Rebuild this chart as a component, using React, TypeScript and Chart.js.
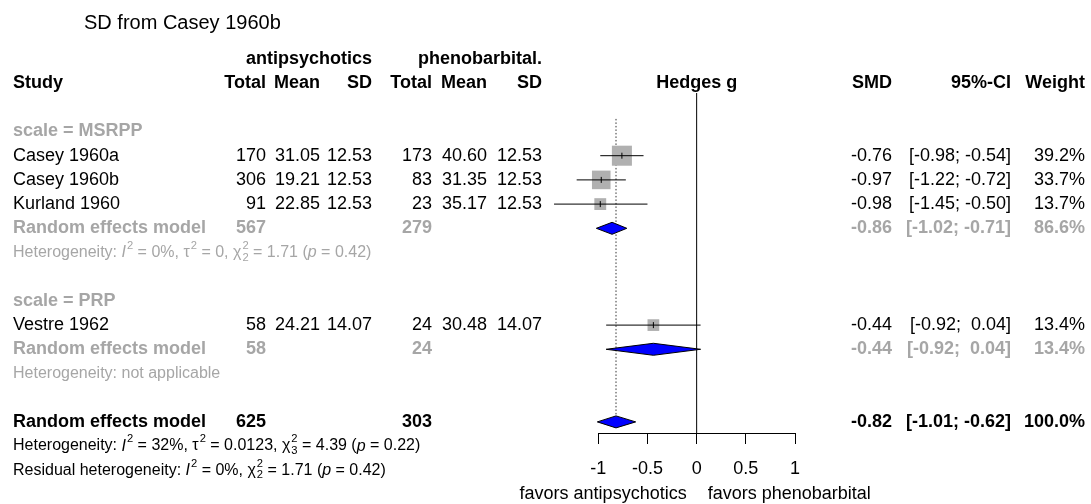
import React, { useEffect, useRef } from 'react';
import { Chart, registerables } from 'chart.js';

Chart.register(...registerables);

// ---------- data ----------
const TITLE = 'SD from Casey 1960b';
const GROUP_E = 'antipsychotics';
const GROUP_C = 'phenobarbital.';

const SUBGROUP_LABELS = ['scale = MSRPP', 'scale = PRP'];
const SUBGROUP_ROWS = [0, 7];

const STUDIES = ['Casey 1960a', 'Casey 1960b', 'Kurland 1960', 'Vestre 1962'];
const STUDY_ROWS = [1, 2, 3, 8];
const N_E = [170, 306, 91, 58];
const MEAN_E = [31.05, 19.21, 22.85, 24.21];
const SD_E = [12.53, 12.53, 12.53, 14.07];
const N_C = [173, 83, 23, 24];
const MEAN_C = [40.6, 31.35, 35.17, 30.48];
const SD_C = [12.53, 12.53, 12.53, 14.07];
const SMD = [-0.76, -0.97, -0.98, -0.44];
const CI_LO = [-0.98, -1.22, -1.45, -0.92];
const CI_HI = [-0.54, -0.72, -0.5, 0.04];
const WEIGHT = [39.2, 33.7, 13.7, 13.4];

const POOLED_LABEL = 'Random effects model';
const POOLED_ROWS = [4, 9, 12];
const POOLED_N_E = [567, 58, 625];
const POOLED_N_C = [279, 24, 303];
const POOLED_SMD = [-0.86, -0.44, -0.82];
const POOLED_LO = [-1.02, -0.92, -1.01];
const POOLED_HI = [-0.71, 0.04, -0.62];
const POOLED_WEIGHT = [86.6, 13.4, 100.0];

const X_TICKS = [-1, -0.5, 0, 0.5, 1];
const LABEL_LEFT = 'favors antipsychotics';
const LABEL_RIGHT = 'favors phenobarbital';

type Seg = { t?: string; it?: boolean; sup?: string; sub?: string };
const HET_ROWS = [5, 10, 13, 14];
const HET_LINES: Seg[][] = [
  [{ t: 'Heterogeneity: ' }, { t: 'I', it: true }, { sup: '2' }, { t: ' = 0%, τ' }, { sup: '2' }, { t: ' = 0, χ' }, { sup: '2', sub: '2' }, { t: ' = 1.71 (' }, { t: 'p', it: true }, { t: ' = 0.42)' }],
  [{ t: 'Heterogeneity: not applicable' }],
  [{ t: 'Heterogeneity: ' }, { t: 'I', it: true }, { sup: '2' }, { t: ' = 32%, τ' }, { sup: '2' }, { t: ' = 0.0123, χ' }, { sup: '2', sub: '3' }, { t: ' = 4.39 (' }, { t: 'p', it: true }, { t: ' = 0.22)' }],
  [{ t: 'Residual heterogeneity: ' }, { t: 'I', it: true }, { sup: '2' }, { t: ' = 0%, χ' }, { sup: '2', sub: '2' }, { t: ' = 1.71 (' }, { t: 'p', it: true }, { t: ' = 0.42)' }],
];
const HET_GRAY = [true, true, false, false];

// ---------- style / layout ----------
const FONT = '"Liberation Sans", Arial, sans-serif';
const FS = 18;
const HET_FS = 16;
const GRAY = '#a6a6a6';
const SQUARE = '#b0b0b0';
const COL = { study: 13, nE: 266, meanE: 320, sdE: 372, nC: 432, meanC: 487, sdC: 542, smd: 892, ci: 1011, w: 1085 };

function fmtCI(lo: number, hi: number) {
  const l = lo.toFixed(2);
  const h = hi.toFixed(2);
  return `[${l};${hi < 0 ? ' ' : '  '}${h}]`;
}

function txt(ctx: CanvasRenderingContext2D, s: string, x: number, y: number, align: CanvasTextAlign, color: string, bold = false, size = FS) {
  ctx.font = `${bold ? 'bold ' : ''}${size}px ${FONT}`;
  ctx.fillStyle = color;
  ctx.textAlign = align;
  ctx.textBaseline = 'middle';
  ctx.fillText(s, x, y);
}

function rich(ctx: CanvasRenderingContext2D, segs: Seg[], x: number, y: number, size: number, color: string) {
  ctx.fillStyle = color;
  ctx.textAlign = 'left';
  ctx.textBaseline = 'middle';
  let cx = x;
  for (const s of segs) {
    if (s.sup !== undefined || s.sub !== undefined) {
      ctx.font = `${size * 0.7}px ${FONT}`;
      let w = 0;
      if (s.sup) { ctx.fillText(s.sup, cx + 1, y - size * 0.42); w = Math.max(w, ctx.measureText(s.sup).width); }
      if (s.sub) { ctx.fillText(s.sub, cx + 1, y + size * 0.32); w = Math.max(w, ctx.measureText(s.sub).width); }
      cx += w + 1;
    } else if (s.t !== undefined) {
      ctx.font = `${s.it ? 'italic ' : ''}${size}px ${FONT}`;
      ctx.fillText(s.t, cx, y);
      cx += ctx.measureText(s.t).width;
    }
  }
}

const forestPlugin = {
  id: 'forestText',
  beforeDatasetsDraw(chart: any) {
    const ctx = chart.ctx as CanvasRenderingContext2D;
    const xs = chart.scales.x;
    const ys = chart.scales.y;
    const a = chart.chartArea;
    ctx.save();
    // line of no effect
    const x0 = xs.getPixelForValue(0);
    ctx.strokeStyle = '#000';
    ctx.lineWidth = 1;
    ctx.beginPath();
    ctx.moveTo(x0, a.top);
    ctx.lineTo(x0, a.bottom);
    ctx.stroke();
    // dotted line at overall random effect estimate
    const xr = xs.getPixelForValue(POOLED_SMD[2]);
    ctx.setLineDash([1.5, 2]);
    ctx.strokeStyle = '#333';
    ctx.beginPath();
    ctx.moveTo(xr, ys.getPixelForValue(-0.52));
    ctx.lineTo(xr, ys.getPixelForValue(POOLED_ROWS[2]) - 6);
    ctx.stroke();
    ctx.restore();
  },
  afterDatasetsDraw(chart: any) {
    const ctx = chart.ctx as CanvasRenderingContext2D;
    const xs = chart.scales.x;
    const ys = chart.scales.y;
    ctx.save();
    POOLED_ROWS.forEach((r, i) => {
      const y = ys.getPixelForValue(r);
      const xl = xs.getPixelForValue(POOLED_LO[i]);
      const xm = xs.getPixelForValue(POOLED_SMD[i]);
      const xh = xs.getPixelForValue(POOLED_HI[i]);
      ctx.beginPath();
      ctx.moveTo(xl, y);
      ctx.lineTo(xm, y - 6);
      ctx.lineTo(xh, y);
      ctx.lineTo(xm, y + 6);
      ctx.closePath();
      ctx.fillStyle = '#0000ff';
      ctx.fill();
      ctx.strokeStyle = '#000';
      ctx.lineWidth = 1;
      ctx.stroke();
    });
    ctx.restore();
  },
  afterDraw(chart: any) {
    const ctx = chart.ctx as CanvasRenderingContext2D;
    const xs = chart.scales.x;
    const ys = chart.scales.y;
    const Y = (r: number) => ys.getPixelForValue(r);
    ctx.save();
    // title
    txt(ctx, TITLE, 84, Y(-4.45), 'left', '#000', false, 20);
    // headers
    txt(ctx, GROUP_E, COL.sdE, Y(-3), 'right', '#000', true);
    txt(ctx, GROUP_C, COL.sdC, Y(-3), 'right', '#000', true);
    const hy = Y(-2);
    txt(ctx, 'Study', COL.study, hy, 'left', '#000', true);
    txt(ctx, 'Total', COL.nE, hy, 'right', '#000', true);
    txt(ctx, 'Mean', COL.meanE, hy, 'right', '#000', true);
    txt(ctx, 'SD', COL.sdE, hy, 'right', '#000', true);
    txt(ctx, 'Total', COL.nC, hy, 'right', '#000', true);
    txt(ctx, 'Mean', COL.meanC, hy, 'right', '#000', true);
    txt(ctx, 'SD', COL.sdC, hy, 'right', '#000', true);
    txt(ctx, 'Hedges g', xs.getPixelForValue(0), hy, 'center', '#000', true);
    txt(ctx, 'SMD', COL.smd, hy, 'right', '#000', true);
    txt(ctx, '95%-CI', COL.ci, hy, 'right', '#000', true);
    txt(ctx, 'Weight', COL.w, hy, 'right', '#000', true);
    // subgroup headings
    SUBGROUP_LABELS.forEach((s, i) => txt(ctx, s, COL.study, Y(SUBGROUP_ROWS[i]), 'left', GRAY, true));
    // studies
    STUDIES.forEach((s, i) => {
      const y = Y(STUDY_ROWS[i]);
      txt(ctx, s, COL.study, y, 'left', '#000');
      txt(ctx, String(N_E[i]), COL.nE, y, 'right', '#000');
      txt(ctx, MEAN_E[i].toFixed(2), COL.meanE, y, 'right', '#000');
      txt(ctx, SD_E[i].toFixed(2), COL.sdE, y, 'right', '#000');
      txt(ctx, String(N_C[i]), COL.nC, y, 'right', '#000');
      txt(ctx, MEAN_C[i].toFixed(2), COL.meanC, y, 'right', '#000');
      txt(ctx, SD_C[i].toFixed(2), COL.sdC, y, 'right', '#000');
      txt(ctx, SMD[i].toFixed(2), COL.smd, y, 'right', '#000');
      txt(ctx, fmtCI(CI_LO[i], CI_HI[i]), COL.ci, y, 'right', '#000');
      txt(ctx, WEIGHT[i].toFixed(1) + '%', COL.w, y, 'right', '#000');
    });
    // pooled rows
    POOLED_ROWS.forEach((r, i) => {
      const y = Y(r);
      const c = i < 2 ? GRAY : '#000';
      txt(ctx, POOLED_LABEL, COL.study, y, 'left', c, true);
      txt(ctx, String(POOLED_N_E[i]), COL.nE, y, 'right', c, true);
      txt(ctx, String(POOLED_N_C[i]), COL.nC, y, 'right', c, true);
      txt(ctx, POOLED_SMD[i].toFixed(2), COL.smd, y, 'right', c, true);
      txt(ctx, fmtCI(POOLED_LO[i], POOLED_HI[i]), COL.ci, y, 'right', c, true);
      txt(ctx, POOLED_WEIGHT[i].toFixed(1) + '%', COL.w, y, 'right', c, true);
    });
    // heterogeneity
    HET_LINES.forEach((segs, i) => rich(ctx, segs, COL.study, Y(HET_ROWS[i]), HET_FS, HET_GRAY[i] ? GRAY : '#000'));
    // axis labels
    const x0 = xs.getPixelForValue(0);
    txt(ctx, LABEL_LEFT, x0 - 10, 494, 'right', '#000');
    txt(ctx, LABEL_RIGHT, x0 + 11, 494, 'left', '#000');
    ctx.restore();
  },
};

export default function App() {
  const ref = useRef<HTMLCanvasElement | null>(null);
  useEffect(() => {
    document.body.style.margin = '0';
    const canvas = ref.current;
    if (!canvas) return;
    const lineSets = STUDIES.map((_, i) => ({
      type: 'scatter' as const,
      data: [{ x: CI_LO[i], y: STUDY_ROWS[i] }, { x: CI_HI[i], y: STUDY_ROWS[i] }],
      showLine: true,
      borderColor: '#000',
      borderWidth: 1,
      pointRadius: 0,
      clip: false as any,
      order: 1,
    }));
    const chart = new Chart(canvas, {
      type: 'scatter',
      data: {
        datasets: [
          {
            data: STUDIES.map((_, i) => ({ x: SMD[i], y: STUDY_ROWS[i] })),
            pointStyle: 'line',
            rotation: 90,
            pointRadius: 3,
            borderColor: '#000',
            borderWidth: 1,
            clip: false as any,
            order: 0,
          },
          ...lineSets,
          {
            data: STUDIES.map((_, i) => ({ x: SMD[i], y: STUDY_ROWS[i] })),
            pointStyle: 'rect',
            pointRadius: WEIGHT.map((w) => (3.2 * Math.sqrt(w)) / Math.SQRT2),
            backgroundColor: SQUARE,
            borderWidth: 0,
            clip: false as any,
            order: 2,
          },
        ] as any,
      },
      options: {
        responsive: false,
        animation: false,
        devicePixelRatio: 1,
        events: [],
        layout: { padding: { left: 598.3, right: 1091 - 795, top: 93, bottom: 21 } },
        plugins: { legend: { display: false }, tooltip: { enabled: false } },
        scales: {
          x: {
            type: 'linear',
            min: -1,
            max: 1,
            afterBuildTicks: (axis: any) => {
              axis.ticks = X_TICKS.map((v) => ({ value: v }));
            },
            afterFit: (s: any) => {
              s.height = 50;
            },
            ticks: {
              autoSkip: false,
              maxRotation: 0,
              padding: 14,
              color: '#000',
              font: { family: FONT, size: FS },
              callback: (v: any) => String(v),
            },
            grid: { drawOnChartArea: false, drawTicks: true, tickLength: 11, color: '#000', tickColor: '#000' },
            border: { display: true, color: '#000', width: 1 },
          },
          y: {
            type: 'linear',
            display: false,
            reverse: true,
            min: -1.591,
            max: 12.459,
          },
        },
      } as any,
      plugins: [forestPlugin],
    });
    return () => chart.destroy();
  }, []);
  return (
    <div style={{ width: 1091, height: 504, background: '#fff' }}>
      <canvas ref={ref} width={1091} height={504} style={{ display: 'block' }} />
    </div>
  );
}
